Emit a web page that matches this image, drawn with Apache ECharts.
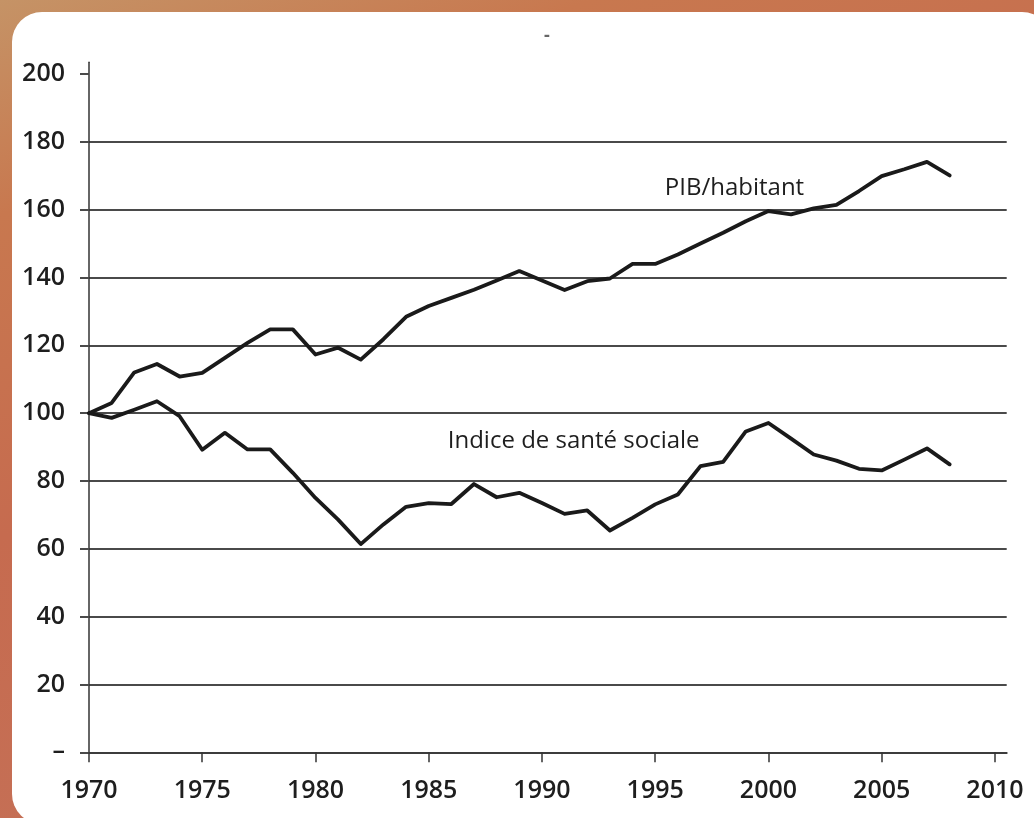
<!DOCTYPE html>
<html>
<head>
<meta charset="utf-8">
<script src="https://cdn.jsdelivr.net/npm/echarts@6/dist/echarts.min.js"></script>
<style>
  html, body { margin: 0; padding: 0; width: 1034px; height: 818px; overflow: hidden; }
  body {
    background: linear-gradient(160deg, #c59366 0%, #c8784f 18%, #c66b4f 45%, #c56f55 70%, #c8805c 100%);
    position: relative;
  }
  #panel {
    position: absolute; left: 12px; top: 12px; width: 1040px; height: 812px;
    background: #ffffff; border-radius: 30px;
  }
  #chart { position: absolute; left: 0; top: 0; width: 1034px; height: 818px; }
</style>
</head>
<body>
<div id="panel"></div>
<div id="chart"></div>
<script>
// ---- data ----
const years = [1970,1971,1972,1973,1974,1975,1976,1977,1978,1979,
               1980,1981,1982,1983,1984,1985,1986,1987,1988,1989,
               1990,1991,1992,1993,1994,1995,1996,1997,1998,1999,
               2000,2001,2002,2003,2004,2005,2006,2007,2008];
const pibHabitant = [100,103,112,114.5,110.8,111.9,116.3,120.7,124.7,124.7,
                     117.3,119.3,115.8,121.8,128.4,131.6,134,136.4,139.1,141.9,
                     139.1,136.3,138.9,139.7,144,144,146.8,150,153.2,156.6,
                     159.6,158.6,160.4,161.4,165.5,169.9,171.9,174.1,170.1];
const santeSociale = [100,98.6,101,103.5,99.1,89.2,94.2,89.3,89.3,82.4,
                      75,68.6,61.4,67.2,72.4,73.5,73.2,79.1,75.2,76.5,
                      73.5,70.3,71.3,65.4,69.1,73.1,76,84.4,85.6,94.6,
                      97.1,92.5,87.8,86,83.6,83.1,86.3,89.6,84.9];
const yTicks = [0,20,40,60,80,100,120,140,160,180,200];
const xTicks = [1970,1975,1980,1985,1990,1995,2000,2005,2010];
const seriesNames = ['PIB/habitant', 'Indice de santé sociale'];

const FONT = '"Open Sans", "Liberation Sans", sans-serif';
const chart = echarts.init(document.getElementById('chart'), null, { renderer: 'canvas' });

const lineStyle = { color: '#1a1a1a', width: 3.8, join: 'round', cap: 'round' };

chart.setOption({
  backgroundColor: 'transparent',
  animation: false,
  grid: { left: 89, right: 27.3, top: 62.3, bottom: 65.7, containLabel: false },
  xAxis: {
    type: 'value', min: 1970, max: 2010.52, interval: 5,
    axisLine: { show: true, onZero: false, lineStyle: { color: '#3c3c3c', width: 2 } },
    axisTick: { show: true, inside: false, length: 10, customValues: xTicks,
                lineStyle: { color: '#333', width: 1.5 } },
    axisLabel: { show: true, customValues: xTicks, margin: 26, color: '#1e1e1e',
                 fontFamily: FONT, fontSize: 25, fontWeight: 600, formatter: v => String(v) },
    splitLine: { show: false }
  },
  yAxis: {
    type: 'value', min: 0, max: 203.45, interval: 20,
    axisLine: { show: true, lineStyle: { color: '#333', width: 1.5 } },
    axisTick: { show: true, inside: false, length: 9, customValues: yTicks,
                lineStyle: { color: '#4a4a4a', width: 2 } },
    axisLabel: { show: true, customValues: yTicks, margin: 24, color: '#1e1e1e',
                 fontFamily: FONT, fontSize: 25, fontWeight: 600,
                 formatter: v => (v === 0 ? '–' : String(v)) },
    splitLine: { show: true, showMaxLine: false, lineStyle: { color: '#4a4a4a', width: 2 } }
  },
  graphic: [
    { type: 'text', left: 544, top: 27,
      style: { text: '-', fontSize: 18, fontWeight: 700, fill: '#666', fontFamily: FONT } }
  ],
  series: [
    {
      name: seriesNames[0], type: 'line', symbol: 'none',
      data: years.map((y, i) => [y, pibHabitant[i]]),
      lineStyle: lineStyle, z: 5,
      markPoint: {
        symbol: 'circle', symbolSize: 0, silent: true,
        label: { show: true, position: 'inside', formatter: seriesNames[0],
                 color: '#1e1e1e', fontFamily: FONT, fontSize: 24, fontWeight: 500 },
        data: [{ coord: [1998.5, 166.2] }]
      }
    },
    {
      name: seriesNames[1], type: 'line', symbol: 'none',
      data: years.map((y, i) => [y, santeSociale[i]]),
      lineStyle: lineStyle, z: 5,
      markPoint: {
        symbol: 'circle', symbolSize: 0, silent: true,
        label: { show: true, position: 'inside', formatter: seriesNames[1],
                 color: '#1e1e1e', fontFamily: FONT, fontSize: 24, fontWeight: 500 },
        data: [{ coord: [1991.4, 91.6] }]
      }
    }
  ]
});
</script>
</body>
</html>
